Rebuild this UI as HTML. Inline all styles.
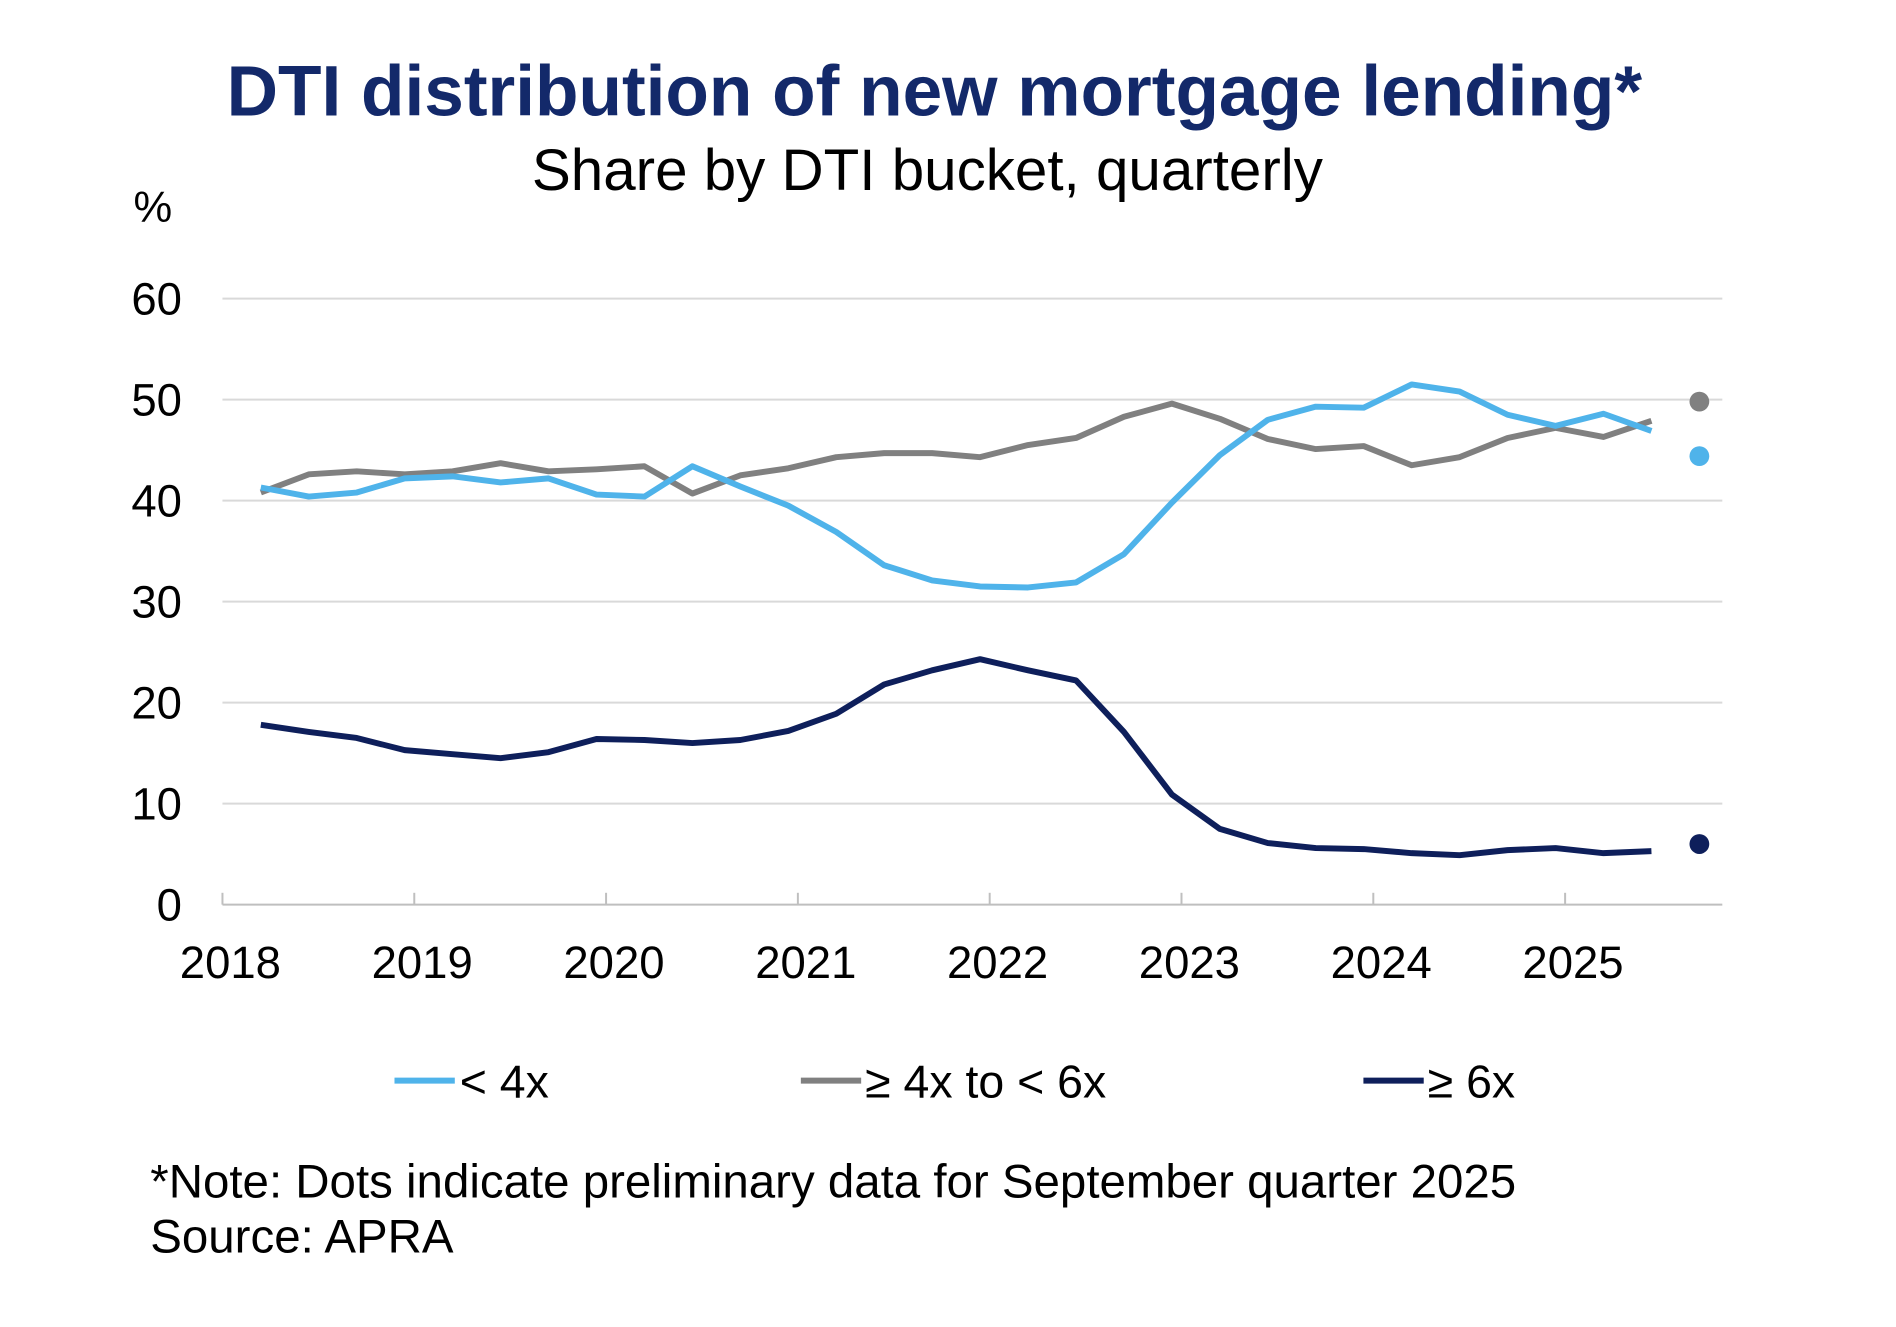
<!DOCTYPE html>
<html><head><meta charset="utf-8"><style>
body{margin:0;background:#fff;}
svg text{font-family:"Liberation Sans",Arial,sans-serif;}
</style></head><body>
<svg id="chart" width="1896" height="1322" viewBox="0 0 1896 1322">
<g transform="scale(0.9887)">
<text x="945" y="117" text-anchor="middle" font-size="72" font-weight="bold" fill="#13296a">DTI distribution of new mortgage lending*</text>
<text x="938" y="192" text-anchor="middle" font-size="59" fill="#000">Share by DTI bucket, quarterly</text>
<text x="135" y="224" font-size="44" fill="#000">%</text>
<g id="grid"></g><g id="xaxis"></g><g id="series"></g>
<g>
<line x1="399" y1="1093" x2="460" y2="1093" stroke="#4fb3ea" stroke-width="6"/>
<text x="465" y="1110" font-size="47">&lt; 4x</text>
<line x1="810" y1="1093" x2="871" y2="1093" stroke="#808080" stroke-width="6"/>
<text x="875" y="1110" font-size="47">≥ 4x to &lt; 6x</text>
<line x1="1379" y1="1093" x2="1440" y2="1093" stroke="#0e1f5b" stroke-width="6"/>
<text x="1444" y="1110" font-size="47">≥ 6x</text>
</g>
<text x="152" y="1211" font-size="48">*Note: Dots indicate preliminary data for September quarter 2025</text>
<text x="152" y="1267" font-size="48">Source: APRA</text>
</g>
</svg>
<script>
const yTicks=[0,10,20,30,40,50,60];
const years=[2018,2019,2020,2021,2022,2023,2024,2025];
const lt4=[41.3,40.4,40.8,42.2,42.4,41.8,42.2,40.6,40.4,43.4,41.4,39.5,36.9,33.6,32.1,31.5,31.4,31.9,34.7,39.8,44.5,48.0,49.3,49.2,51.5,50.8,48.5,47.4,48.6,46.9];
const mid=[40.8,42.6,42.9,42.6,42.9,43.7,42.9,43.1,43.4,40.7,42.5,43.2,44.3,44.7,44.7,44.3,45.5,46.2,48.3,49.6,48.1,46.1,45.1,45.4,43.5,44.3,46.2,47.2,46.3,47.9];
const ge6=[17.8,17.1,16.5,15.3,14.9,14.5,15.1,16.4,16.3,16.0,16.3,17.2,18.9,21.8,23.2,24.3,23.2,22.2,17.1,10.9,7.5,6.1,5.6,5.5,5.1,4.9,5.4,5.6,5.1,5.3];
const prelim=[44.4,49.8,6.0];
const NS="http://www.w3.org/2000/svg";
const X0=225,X1=1742,yearW=194;
const xq=i=>X0+(i+0.8)*yearW/4;
const yv=v=>915-v*(915-302)/60;
function mk(t,a,p){const e=document.createElementNS(NS,t);for(const k in a)e.setAttribute(k,a[k]);p.appendChild(e);return e;}
const grid=document.getElementById('grid');
yTicks.forEach(v=>{
  if(v>0){const l=mk('line',{x1:X0,x2:X1,y1:yv(v),y2:yv(v),stroke:'#d9d9d9','stroke-width':2},grid);
  
  }
  const t=mk('text',{x:184,y:yv(v)+16,'text-anchor':'end','font-size':46},grid);t.textContent=v;
  
  
});
const xa=document.getElementById('xaxis');
const ax=mk('line',{x1:X0,x2:X1,y1:915,y2:915,stroke:'#bfbfbf','stroke-width':2},xa);


years.forEach((y,k)=>{
  const x=X0+k*yearW;
  const tk=mk('line',{x1:x,x2:x,y1:903,y2:915,stroke:'#bfbfbf','stroke-width':2},xa);
  
  
  const t=mk('text',{x:x+8,y:989,'text-anchor':'middle','font-size':46},xa);t.textContent=y;
  
  
});
const sg=document.getElementById('series');
[[mid,'#808080','line-4x-to-6x'],[lt4,'#4fb3ea','line-lt4x'],[ge6,'#0e1f5b','line-ge6x']].forEach(([d,c,n])=>{
  const p=mk('polyline',{points:d.map((v,i)=>xq(i)+','+yv(v)).join(' '),fill:'none',stroke:c,'stroke-width':6,'stroke-linejoin':'round'},sg);
  
  
});
const dc=['#4fb3ea','#808080','#0e1f5b'],dn=['dot-lt4x','dot-4x-to-6x','dot-ge6x'];
prelim.forEach((v,k)=>{
  const c=mk('circle',{cx:xq(30),cy:yv(v),r:10,fill:dc[k]},sg);
  
  
});
</script>
</body></html>
